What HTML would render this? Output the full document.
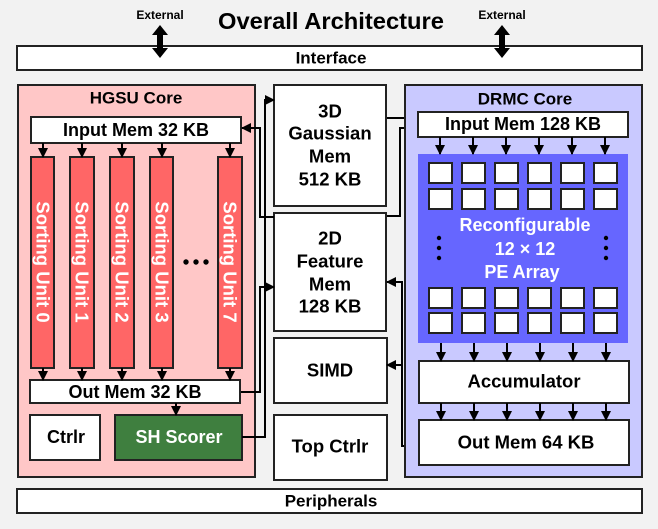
<!DOCTYPE html>
<html><head><meta charset="utf-8"><style>
html,body{margin:0;padding:0;background:#f2f2f2}
svg{display:block}
text{font-family:"Liberation Sans",Arial,sans-serif;font-weight:bold;text-anchor:middle;dominant-baseline:central}
</style></head><body>
<svg width="658" height="529" viewBox="0 0 658 529" xmlns="http://www.w3.org/2000/svg">
<defs>
<marker id="a" markerWidth="10" markerHeight="10" refX="9" refY="5" orient="auto" markerUnits="userSpaceOnUse"><path d="M0,0 L10,5 L0,10 Z" fill="#000"/></marker>
</defs>
<rect width="658" height="529" fill="#f2f2f2"/>
<text x="331" y="21" font-size="23" textLength="226" lengthAdjust="spacingAndGlyphs">Overall Architecture</text>
<text x="160" y="15" font-size="12">External</text>
<text x="502" y="15" font-size="12">External</text>
<rect x="17" y="46" width="625" height="24" fill="#fff" stroke="#222" stroke-width="2"/>
<text x="331" y="58" font-size="17">Interface</text>
<g fill="#000">
<path d="M160,25 L168,35 L163,35 L163,48 L168,48 L160,58 L152,48 L157,48 L157,35 L152,35 Z"/>
<path d="M502,25 L510,35 L505,35 L505,48 L510,48 L502,58 L494,48 L499,48 L499,35 L494,35 Z"/>
</g>
<rect x="17" y="489" width="625" height="24" fill="#fff" stroke="#222" stroke-width="2"/>
<text x="331" y="501" font-size="17">Peripherals</text>

<rect x="18" y="85" width="237" height="392" fill="#ffc7c7" stroke="#222" stroke-width="2"/>
<text x="136" y="98" font-size="17">HGSU Core</text>
<rect x="31" y="117" width="210" height="26" fill="#fff" stroke="#222" stroke-width="2"/>
<text x="136" y="130" font-size="18">Input Mem 32 KB</text>
<g fill="#ff6666" stroke="#222" stroke-width="2">
<rect x="31" y="157" width="23" height="211"/>
<rect x="70" y="157" width="24" height="211"/>
<rect x="110" y="157" width="24" height="211"/>
<rect x="150" y="157" width="23" height="211"/>
<rect x="218" y="157" width="24" height="211"/>
</g>
<g fill="#fff" font-size="18.5">
<text transform="translate(43,262) rotate(90)">Sorting Unit 0</text>
<text transform="translate(82,262) rotate(90)">Sorting Unit 1</text>
<text transform="translate(122,262) rotate(90)">Sorting Unit 2</text>
<text transform="translate(162,262) rotate(90)">Sorting Unit 3</text>
<text transform="translate(230,262) rotate(90)">Sorting Unit 7</text>
</g>
<g fill="#000"><circle cx="186" cy="262" r="2.7"/><circle cx="196" cy="262" r="2.7"/><circle cx="206" cy="262" r="2.7"/></g>
<rect x="30" y="380" width="210" height="23" fill="#fff" stroke="#222" stroke-width="2"/>
<text x="135" y="392" font-size="18">Out Mem 32 KB</text>
<rect x="30" y="415" width="70" height="45" fill="#fff" stroke="#222" stroke-width="2"/>
<text x="66" y="437" font-size="18">Ctrlr</text>
<rect x="115" y="415" width="127" height="45" fill="#3f7f3f" stroke="#222" stroke-width="2"/>
<text x="179" y="437" font-size="18" fill="#fff">SH Scorer</text>
<g stroke="#000" stroke-width="2" marker-end="url(#a)">
<line x1="43" y1="143" x2="43" y2="157"/><line x1="82" y1="143" x2="82" y2="157"/><line x1="122" y1="143" x2="122" y2="157"/><line x1="162" y1="143" x2="162" y2="157"/><line x1="230" y1="143" x2="230" y2="157"/>
<line x1="43" y1="368" x2="43" y2="380"/><line x1="82" y1="368" x2="82" y2="380"/><line x1="122" y1="368" x2="122" y2="380"/><line x1="162" y1="368" x2="162" y2="380"/><line x1="230" y1="368" x2="230" y2="380"/>
<line x1="176" y1="403" x2="176" y2="415"/>
</g>

<g fill="#fff" stroke="#222" stroke-width="2">
<rect x="274" y="85" width="112" height="121"/>
<rect x="274" y="213" width="112" height="118"/>
<rect x="274" y="338" width="113" height="65"/>
<rect x="274" y="415" width="113" height="65"/>
</g>
<g font-size="18.5">
<text x="330" y="111">3D</text><text x="330" y="133">Gaussian</text><text x="330" y="156">Mem</text><text x="330" y="179">512 KB</text>
<text x="330" y="238">2D</text><text x="330" y="261">Feature</text><text x="330" y="284">Mem</text><text x="330" y="306">128 KB</text>
<text x="330" y="370">SIMD</text>
<text x="330" y="446">Top Ctrlr</text>
</g>
<g stroke="#000" stroke-width="2" fill="none" marker-end="url(#a)">
<path d="M274,217 L260,217 L260,128 L242,128"/>
<path d="M241,392 L260,392 L260,287 L274,287"/>
<path d="M242,437 L265,437 L265,100 L274,100"/>
<path d="M387,118 L418,118"/>
<path d="M387,216 L400,216 L400,128 L418,128"/>
<path d="M419,446 L402,446 L402,282 L387,282"/>
<path d="M402,365 L387,365"/>
</g>

<rect x="405" y="85" width="237" height="392" fill="#c9c9ff" stroke="#222" stroke-width="2"/>
<text x="525" y="99" font-size="17">DRMC Core</text>
<rect x="418" y="112" width="210" height="25" fill="#fff" stroke="#222" stroke-width="2"/>
<text x="523" y="124" font-size="18">Input Mem 128 KB</text>
<rect x="418" y="154" width="210" height="189" fill="#6666ff"/>
<g fill="#fff" stroke="#222" stroke-width="2">
<rect x="429" y="163" width="23" height="20"/><rect x="462" y="163" width="23" height="20"/><rect x="495" y="163" width="23" height="20"/><rect x="528" y="163" width="23" height="20"/><rect x="561" y="163" width="23" height="20"/><rect x="594" y="163" width="23" height="20"/>
<rect x="429" y="189" width="23" height="20"/><rect x="462" y="189" width="23" height="20"/><rect x="495" y="189" width="23" height="20"/><rect x="528" y="189" width="23" height="20"/><rect x="561" y="189" width="23" height="20"/><rect x="594" y="189" width="23" height="20"/>
<rect x="429" y="288" width="23" height="20"/><rect x="462" y="288" width="23" height="20"/><rect x="495" y="288" width="23" height="20"/><rect x="528" y="288" width="23" height="20"/><rect x="561" y="288" width="23" height="20"/><rect x="594" y="288" width="23" height="20"/>
<rect x="429" y="313" width="23" height="20"/><rect x="462" y="313" width="23" height="20"/><rect x="495" y="313" width="23" height="20"/><rect x="528" y="313" width="23" height="20"/><rect x="561" y="313" width="23" height="20"/><rect x="594" y="313" width="23" height="20"/>
</g>
<g fill="#fff" font-size="18">
<text x="525" y="225">Reconfigurable</text><text x="525" y="249">12 × 12</text><text x="522" y="272">PE Array</text>
</g>
<g fill="#000"><circle cx="439" cy="238" r="2.2"/><circle cx="439" cy="248" r="2.2"/><circle cx="439" cy="258" r="2.2"/><circle cx="606" cy="238" r="2.2"/><circle cx="606" cy="248" r="2.2"/><circle cx="606" cy="258" r="2.2"/></g>
<rect x="419" y="361" width="210" height="42" fill="#fff" stroke="#222" stroke-width="2"/>
<text x="524" y="381" font-size="18.5">Accumulator</text>
<rect x="419" y="420" width="210" height="45" fill="#fff" stroke="#222" stroke-width="2"/>
<text x="526" y="442" font-size="18.5">Out Mem 64 KB</text>
<g stroke="#000" stroke-width="2" marker-end="url(#a)">
<line x1="440" y1="137" x2="440" y2="154"/><line x1="473" y1="137" x2="473" y2="154"/><line x1="506" y1="137" x2="506" y2="154"/><line x1="539" y1="137" x2="539" y2="154"/><line x1="572" y1="137" x2="572" y2="154"/><line x1="605" y1="137" x2="605" y2="154"/>
<line x1="441" y1="343" x2="441" y2="361"/><line x1="474" y1="343" x2="474" y2="361"/><line x1="507" y1="343" x2="507" y2="361"/><line x1="540" y1="343" x2="540" y2="361"/><line x1="573" y1="343" x2="573" y2="361"/><line x1="606" y1="343" x2="606" y2="361"/>
<line x1="441" y1="403" x2="441" y2="420"/><line x1="474" y1="403" x2="474" y2="420"/><line x1="507" y1="403" x2="507" y2="420"/><line x1="540" y1="403" x2="540" y2="420"/><line x1="573" y1="403" x2="573" y2="420"/><line x1="606" y1="403" x2="606" y2="420"/>
</g>
</svg>
</body></html>
